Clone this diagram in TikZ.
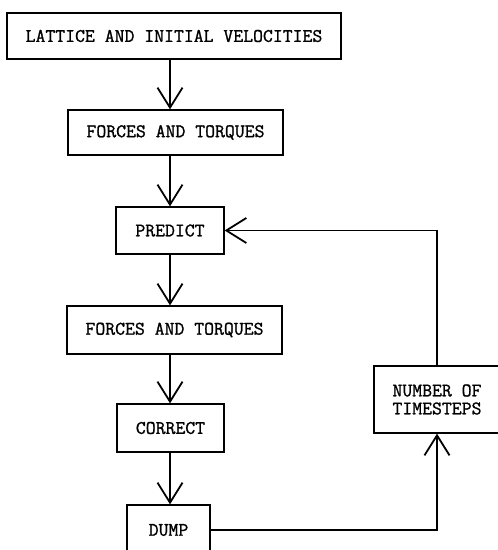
\documentclass[tikz,border=0pt]{standalone}
\usepackage{fontspec}
\newfontfamily\typerfont[FakeBold=1.2]{Latin Modern Mono}
\usetikzlibrary{arrows.meta}
\tikzset{
  stage/.style={draw, line width=1.3pt, inner sep=0pt, align=center,
    font=\typerfont\fontsize{19.2}{18}\selectfont},
  flow/.style={line width=1.3pt,
    -{Straight Barb[length=20pt,width=25pt,line width=1.8pt]}}
}
\begin{document}
\begin{tikzpicture}[x=1pt,y=1pt]
    \useasboundingbox (0,0) rectangle (498,550);
    \clip (0,0) rectangle (498,550);
    \coordinate (spine) at (170,0);
    % main chain
    \node[stage, minimum width=334pt, minimum height=46pt] (lattice) at (174,514) {LATTICE AND INITIAL VELOCITIES};
    \node[stage, minimum width=215pt, minimum height=45pt] (forcesA) at (175.5,417.5) {FORCES AND TORQUES};
    \node[stage, minimum width=108pt, minimum height=47pt] (predict) at (170,319.5) {PREDICT};
    \node[stage, minimum width=215pt, minimum height=48pt] (forcesB) at (174.5,220) {FORCES AND TORQUES};
    \node[stage, minimum width=107pt, minimum height=48pt] (correct) at (170.5,122) {CORRECT};
    \node[stage, minimum width=83pt, minimum height=50pt] (dump) at (168.5,20) {DUMP};
    % loop counter
    \node[stage, minimum width=126pt, minimum height=67pt] (steps) at (437,150.5) {NUMBER OF\\TIMESTEPS};
    \draw[flow] (lattice.south -| spine) -- (forcesA.north -| spine);
    \draw[flow] (forcesA.south -| spine) -- (predict.north -| spine);
    \draw[flow] (predict.south -| spine) -- (forcesB.north -| spine);
    \draw[flow] (forcesB.south -| spine) -- (correct.north -| spine);
    \draw[flow] (correct.south -| spine) -- (dump.north -| spine);
    % feedback
    \draw[flow] (dump.east) -| (steps.south);
    \draw[flow] (steps.north) |- (predict.east);
\end{tikzpicture}
\end{document}
